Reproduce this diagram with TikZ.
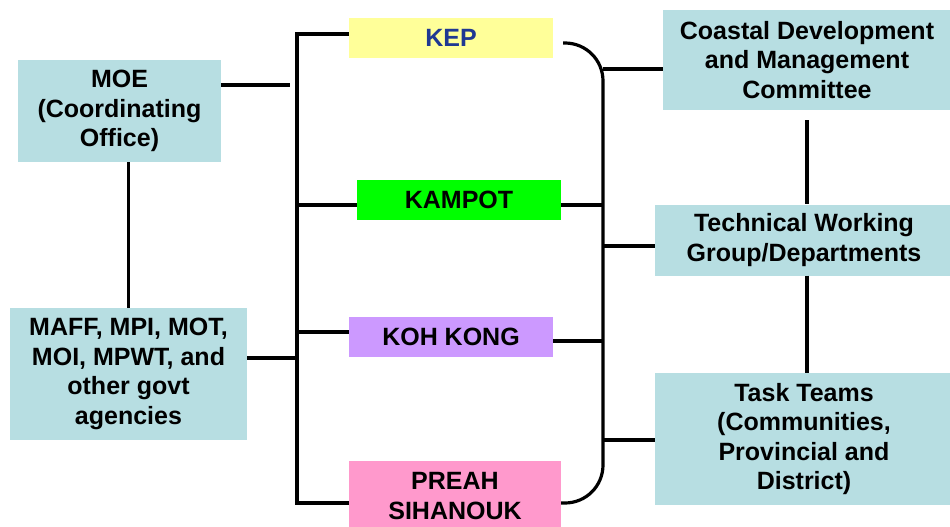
\documentclass[tikz,border=0pt]{standalone}
\usepackage{fontspec}
\setmainfont{Liberation Sans}
\usetikzlibrary{calc}
\definecolor{agencyblue}{RGB}{183,222,226}
\definecolor{kepyellow}{RGB}{255,255,153}
\definecolor{kampotgreen}{RGB}{0,255,0}
\definecolor{kohkongpurple}{RGB}{204,153,255}
\definecolor{preahpink}{RGB}{255,153,204}
\definecolor{kepblue}{RGB}{31,56,146}
\tikzset{
  agency/.style={draw=none, fill=agencyblue, align=center, inner sep=0pt,
    font=\fontsize{25}{29.5}\selectfont\bfseries},
  prov/.style={draw=none, align=center, inner sep=0pt, minimum width=204pt,
    minimum height=40pt, font=\fontsize{25}{29.5}\selectfont\bfseries},
  link/.style={line width=3.2pt, black}
}
\newcommand{\provbox}[4]{\node[prov, fill=#2] (#1) at (#3) {#4};}

\begin{document}
\begin{tikzpicture}[x=1pt,y=-1pt]
\useasboundingbox (0,0) rectangle (950,527);
\clip (0,0) rectangle (950,527);
% ministries on the left
\node[agency, minimum width=203pt, minimum height=102pt] (moe) at (119.5,111) {MOE\\(Coordinating\\Office)};
\node[agency, minimum width=237pt, minimum height=132pt] (maff) at (128.5,374) {MAFF, MPI, MOT,\\MOI, MPWT, and\\other govt\\agencies};
% provinces
\provbox{kep}{kepyellow}{451,38}{\textcolor{kepblue}{KEP}}
\provbox{kampot}{kampotgreen}{459,200}{KAMPOT}
\provbox{kohkong}{kohkongpurple}{451,337}{KOH KONG}
\node[prov, fill=preahpink, minimum width=212pt, minimum height=70pt] (preah) at (455,496) {PREAH\\SIHANOUK};
% committees on the right
\node[agency, minimum width=288pt, minimum height=100pt] (cdmc) at (807,60) {Coastal Development\\and Management\\Committee};
\node[agency, minimum width=298pt, minimum height=71pt] (twg) at (804,240) {Technical Working\\Group/Departments};
\node[agency, minimum width=298pt, minimum height=132pt] (tt) at (804,439) {Task Teams\\(Communities,\\Provincial and\\District)};
% bus points
\coordinate (moeend) at (290,85);
\coordinate (lb1) at (297,34);
\coordinate (lb2) at (297,205);
\coordinate (lb3) at (297,332);
\coordinate (lb4) at (297,358);
\coordinate (lb5) at (297,503);
\coordinate (rb1) at (603,69);
\coordinate (rb2) at (603,205);
\coordinate (rb4) at (603,246);
\coordinate (rb3) at (603,341);
\coordinate (rb6) at (603,440);
\coordinate (rb5) at (603,503);
% left bus
\draw[link] (moe.east |- moeend) -- (moeend);
\draw[link] (maff.north) -- (maff.north |- moe.south);
\draw[link] (maff.east |- lb4) -- (lb4);
\draw[link] (kep.west |- lb1) -- (lb1) -- (lb5) -- (preah.west |- lb5);
\draw[link] (lb2) -- (kampot.west |- lb2);
\draw[link] (lb3) -- (kohkong.west |- lb3);
% right bus
\draw[link, rounded corners=38pt] ([xshift=10pt,yshift=-5pt]kep.east) -| (rb5) -- (preah.east |- rb5);
\draw[link] (rb2) -- (kampot.east |- rb2);
\draw[link] (rb3) -- (kohkong.east |- rb3);
\draw[link] (rb1) -- (cdmc.west |- rb1);
\draw[link] (rb4) -- (twg.west |- rb4);
\draw[link] (rb6) -- (tt.west |- rb6);
\draw[link] ([yshift=-10pt]cdmc.south) -- (cdmc.south |- twg.north);
\draw[link] (cdmc.south |- twg.south) -- (cdmc.south |- tt.north);
\end{tikzpicture}
\end{document}
